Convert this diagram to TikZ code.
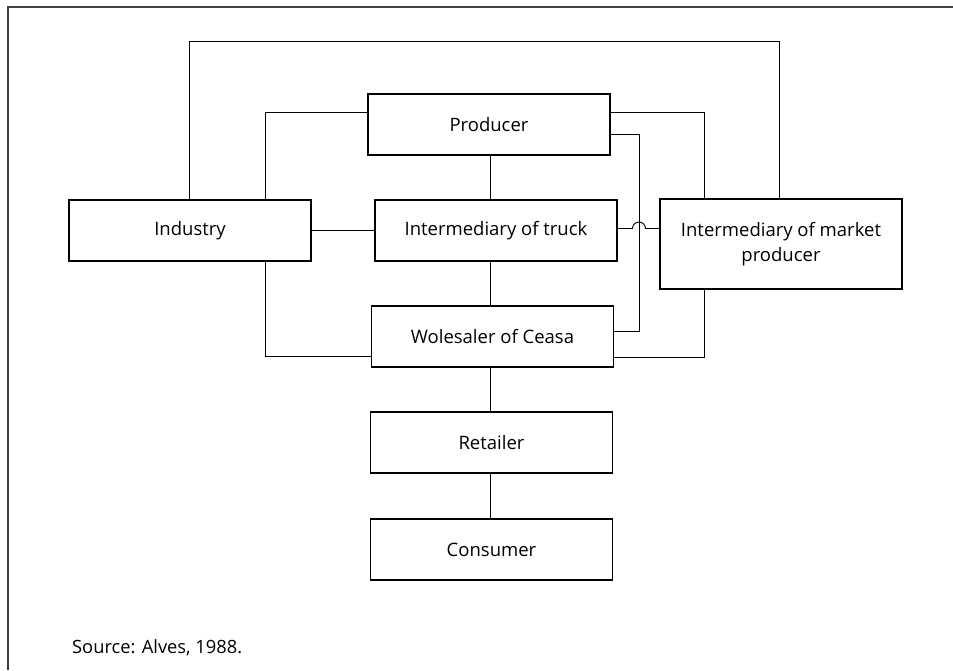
\documentclass[tikz,border=0pt]{standalone}
\usepackage{fontspec}
\setmainfont{Open Sans}
\begin{document}
\begin{tikzpicture}[x=1pt,y=-1pt,
  box/.style={draw,line width=1.1pt,inner sep=0pt,outer sep=0pt,minimum width=242pt,minimum height=61pt,font=\fontsize{18.5}{22}\selectfont,align=center},
  link/.style={line width=0.95pt}]
\useasboundingbox (0,0) rectangle (953,670);
\draw[line width=1.4pt, black!75] (8,670) -- (8,7) -- (953,7);
\node[box] (prod) at (489,124.5) {Producer};
\node[box] (ind) at (190,230.5) {Industry};
\node[box] (truck) at (496,230.5) {Intermediary of truck};
\node[box] (whole) at (492.5,336.5) {Wolesaler of Ceasa};
\node[box,minimum height=90pt,font=\fontsize{18.5}{25}\selectfont] (mkt) at (781,244) {Intermediary of market\\producer};
\node[box] (ret) at (491.5,442.5) {Retailer};
\node[box] (cons) at (491.5,549.5) {Consumer};
\node[anchor=west,font=\fontsize{18.3}{20}\selectfont,inner sep=0pt] (src) at (72,648) {Source: Alves, 1988.};
% connectors
\draw[link] (ind.north -| 189,0) -- (189,41) -- (779,41) -- (mkt.north -| 779,0);
\draw[link] (ind.north -| 265,0) |- (prod.west |- 0,112);
\draw[link] (prod.east |- 0,112) -| (mkt.north -| 704,0);
\draw[link] (prod.east |- 0,134) -| (639,331) -- (whole.east |- 0,331);
\draw[link] (truck.east |- 0,228.5) -- (632.5,228.5) arc[start angle=180,end angle=360,radius=6.5] -- (mkt.west |- 0,228.5);
\draw[link] (ind.east |- 0,230.5) -- (truck.west |- 0,230.5);
\draw[link] (prod.south -| 490,0) -- (truck.north -| 490,0);
\draw[link] (truck.south -| 490,0) -- (whole.north -| 490,0);
\draw[link] (ind.south -| 265,0) |- (whole.west |- 0,356);
\draw[link] (mkt.south -| 704,0) |- (whole.east |- 0,357);
\draw[link] (whole.south -| 490,0) -- (ret.north -| 490,0);
\draw[link] (ret.south -| 490,0) -- (cons.north -| 490,0);
\end{tikzpicture}
\end{document}
